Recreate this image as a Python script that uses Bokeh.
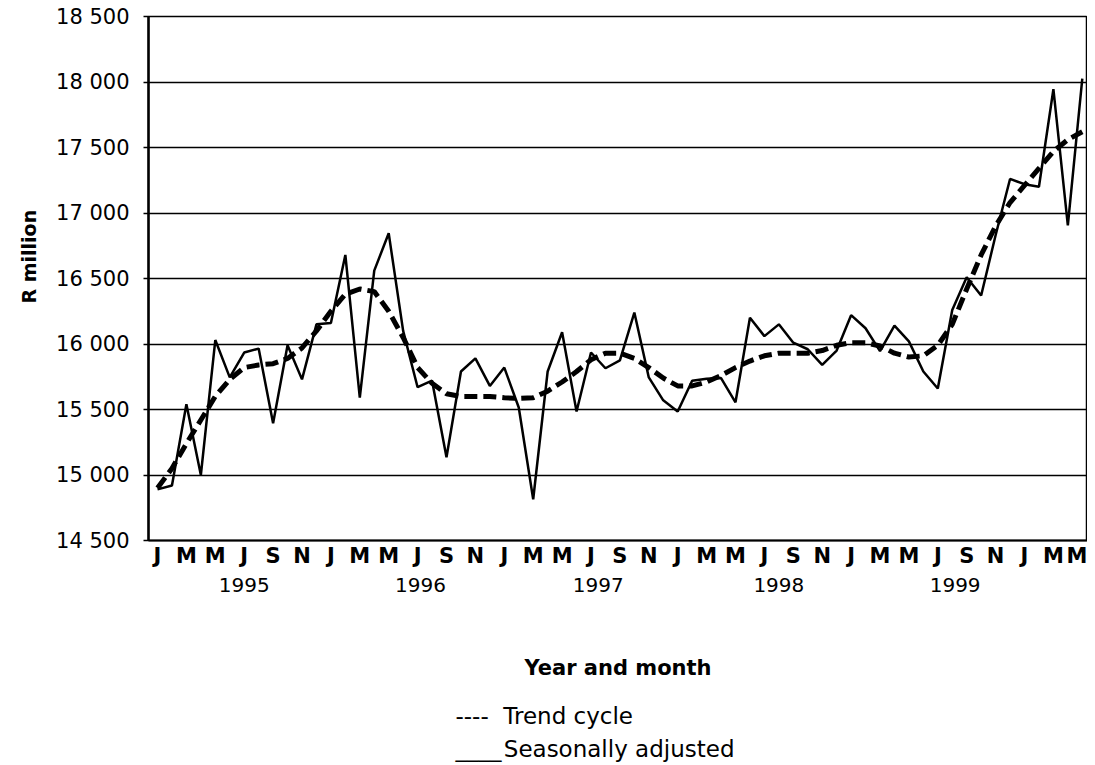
from bokeh.plotting import figure
from bokeh.models import LinearAxis, FixedTicker, Title, Range1d
from bokeh.embed import file_html
from bokeh.resources import INLINE

# ---------------- data ----------------
month_initials = ["J", "F", "M", "A", "M", "J", "J", "A", "S", "O", "N", "D"]
years = [1995, 1996, 1997, 1998, 1999]

# monthly values, January 1995 onwards (R million)
seasonally_adjusted = [
    14890, 14920, 15540, 15000, 16030, 15745, 15935, 15965, 15395, 15990, 15730, 16150,
    16160, 16680, 15590, 16560, 16845, 16100, 15670, 15720, 15135, 15790, 15890, 15680,
    15820, 15515, 14815, 15790, 16090, 15485, 15935, 15815, 15875, 16240, 15745, 15570,
    15485, 15720, 15735, 15740, 15555, 16200, 16060, 16150, 16010, 15960, 15840, 15950,
    16220, 16120, 15945, 16140, 16020, 15790, 15660, 16260, 16510, 16370, 16830, 17260,
    17220, 17200, 17945, 16905, 18025,
]
trend_cycle = [
    14900, 15050, 15240, 15420, 15600, 15730, 15820, 15840, 15850, 15890, 15970, 16100,
    16250, 16380, 16420, 16400, 16250, 16050, 15820, 15700, 15620, 15600, 15600, 15600,
    15590, 15585, 15590, 15640, 15710, 15790, 15880, 15930, 15930, 15890, 15820, 15740,
    15680, 15680, 15710, 15760, 15820, 15870, 15910, 15930, 15930, 15930, 15950, 15990,
    16010, 16010, 15985, 15930, 15900, 15910, 15990, 16150, 16420, 16680, 16900, 17080,
    17210, 17340, 17470, 17560, 17620,
]

y_ticks = [14500, 15000, 15500, 16000, 16500, 17000, 17500, 18000, 18500]
y_tick_labels = ["14 500", "15 000", "15 500", "16 000", "16 500",
                 "17 000", "17 500", "18 000", "18 500"]

legend_lines = ["----\u00a0\u00a0Trend cycle", "____\u200aSeasonally adjusted"]

months = list(range(len(seasonally_adjusted)))

# ---------------- layout constants ----------------
FONT = "DejaVu Sans"
year_positions = [6, 18.2, 30.5, 43, 55.2]

p = figure(
    frame_width=939, frame_height=524,
    x_range=Range1d(-0.623, 64.36), y_range=Range1d(14500, 18500),
    output_backend="svg", toolbar_location=None,
    min_border_left=148, min_border_top=16, min_border_right=0, min_border_bottom=0,
    background_fill_color="white", border_fill_color="white",
)
p.outline_line_color = "black"
p.outline_line_width = 1.5

# grid
p.xgrid.grid_line_color = None
p.ygrid.ticker = FixedTicker(ticks=y_ticks)
p.ygrid.grid_line_color = "black"
p.ygrid.grid_line_width = 1.3

# y axis
ya = p.yaxis[0]
ya.ticker = FixedTicker(ticks=y_ticks)
ya.major_label_overrides = {v: s for v, s in zip(y_ticks, y_tick_labels)}
ya.axis_line_width = 2.5
ya.major_tick_out = 5
ya.major_tick_in = 0
ya.major_tick_line_width = 1.5
ya.minor_tick_line_color = None
ya.major_label_text_font = FONT
ya.major_label_text_font_size = "21px"
ya.major_label_text_color = "black"
ya.major_label_standoff = 14

ytitle = Title(text="R million", align="left", offset=237, text_font=FONT,
               text_font_size="19px", text_font_style="bold", text_color="black",
               standoff=28)
p.add_layout(ytitle, "left")

# main x axis: month initials
xa = p.xaxis[0]
xa.ticker = FixedTicker(ticks=months[::2])
xa.major_label_overrides = {m: month_initials[m % 12] for m in months[::2]}
xa.axis_line_width = 2
xa.major_tick_line_color = None
xa.minor_tick_line_color = None
xa.major_label_text_font = FONT
xa.major_label_text_font_size = "21px"
xa.major_label_text_font_style = "bold"
xa.major_label_text_color = "black"
xa.major_label_standoff = -3

# year axis
yr = LinearAxis(
    ticker=FixedTicker(ticks=year_positions),
    major_label_overrides={pos: str(y) for pos, y in zip(year_positions, years)},
    axis_line_color=None, major_tick_line_color=None, minor_tick_line_color=None,
    major_label_text_font=FONT, major_label_text_font_size="20px",
    major_label_text_color="black", major_label_standoff=1,
    axis_label="Year and month", axis_label_text_font=FONT,
    axis_label_text_font_size="21px", axis_label_text_font_style="bold",
    axis_label_text_color="black", axis_label_standoff=61,
)
p.add_layout(yr, "below")

# series
p.line(months, trend_cycle, line_color="black", line_width=5, line_dash="13 6")
p.line(months, seasonally_adjusted, line_color="black", line_width=2.5)

# text legend below
leg = Title(text="\n".join(legend_lines), align="left", offset=307, text_font=FONT,
            text_font_size="23px", text_font_style="normal", text_color="black",
            text_line_height=1.25, standoff=36)
p.add_layout(leg, "below")

open("out.html", "w").write(file_html(p, INLINE))
